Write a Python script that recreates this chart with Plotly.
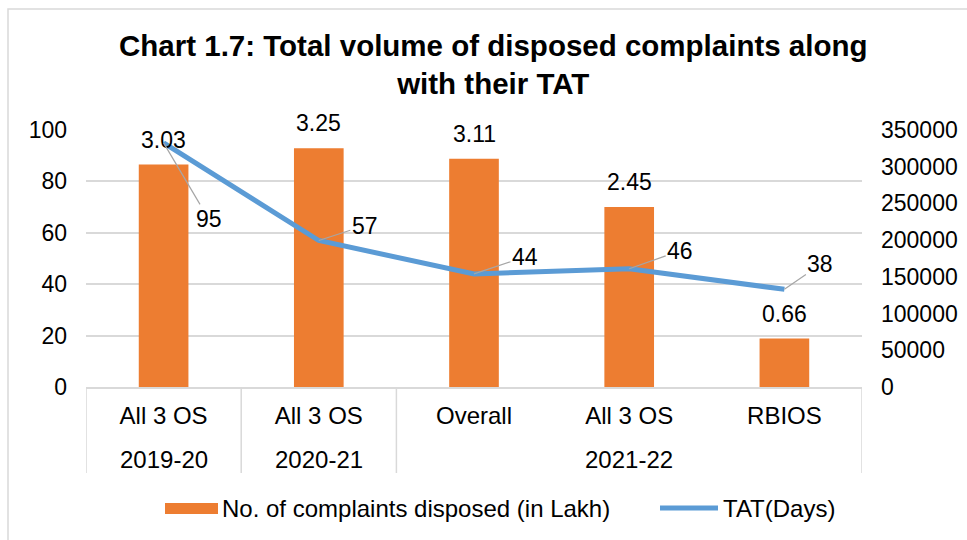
import plotly.graph_objects as go

years = ["2019-20", "2020-21", "2021-22", "2021-22", "2021-22"]
schemes = ["All 3 OS", "All 3 OS", "Overall", "All 3 OS", "RBIOS"]
disposed = [303000, 325000, 311000, 245000, 66000]
disposed_lakh = [3.03, 3.25, 3.11, 2.45, 0.66]
tat_days = [95, 57, 44, 46, 38]
tat_offsets = [(45, 76), (46, -15), (51, -17), (51, -18), (36, -25)]

FONT = "Liberation Sans, Arial, sans-serif"
ORANGE = "#ED7D31"
BLUE = "#5B9BD5"
GRID = "#D9D9D9"
FS = 23
FS_CAT = 24

W, H = 967, 540
L, R, T, B = 86, 105, 130, 153
pw, ph = W - L - R, H - T - B


def px(x):
    return (x - L) / pw


def py(y):
    return (H - B - y) / ph


keys = [f"{y} | {s}" for y, s in zip(years, schemes)]

fig = go.Figure()
fig.add_trace(go.Bar(
    x=keys, y=disposed, name="No. of complaints disposed (in Lakh)",
    marker=dict(color=ORANGE, line=dict(width=0)), yaxis="y", showlegend=False,
))
fig.add_trace(go.Scatter(
    x=keys, y=tat_days, name="TAT(Days)", mode="lines",
    line=dict(color=BLUE, width=5), yaxis="y2", showlegend=False,
))

annotations = []
for k, v, lab in zip(keys, disposed, disposed_lakh):
    annotations.append(dict(
        x=k, y=v, xref="x", yref="y", text=f"{lab:.2f}", showarrow=False,
        yanchor="bottom", yshift=10, font=dict(size=FS, color="#000", family=FONT),
    ))
for k, v, (ax, ay) in zip(keys, tat_days, tat_offsets):
    annotations.append(dict(
        x=k, y=v, xref="x", yref="y2", text=str(v), showarrow=True,
        arrowhead=0, arrowwidth=1.2, arrowcolor="#A6A6A6", ax=ax, ay=ay,
        standoff=0, font=dict(size=FS, color="#000", family=FONT),
    ))

# outer (year) labels, centred on each group
groups = []
for i, yv in enumerate(years):
    if groups and groups[-1][0] == yv:
        groups[-1][2] = i
    else:
        groups.append([yv, i, i])
for yv, i0, i1 in groups:
    annotations.append(dict(
        x=(i0 + i1) / 2, y=py(460), xref="x", yref="paper", text=yv,
        showarrow=False, yanchor="middle",
        font=dict(size=FS_CAT, color="#000", family=FONT)))

# legend (custom)
annotations.append(dict(x=px(220), y=py(508), xref="paper", yref="paper",
                        text="No. of complaints disposed (in Lakh)", showarrow=False,
                        xanchor="left", yanchor="middle",
                        font=dict(size=FS_CAT, color="#000", family=FONT)))
annotations.append(dict(x=px(721), y=py(508), xref="paper", yref="paper",
                        text="TAT(Days)", showarrow=False,
                        xanchor="left", yanchor="middle",
                        font=dict(size=FS_CAT, color="#000", family=FONT)))

# title
annotations.append(dict(
    x=px(493), y=py(64), xref="paper", yref="paper",
    text="<b>Chart 1.7: Total volume of disposed complaints along<br>with their TAT</b>",
    showarrow=False, xanchor="center", yanchor="middle",
    font=dict(size=29.5, color="#000", family=FONT)))

shapes = [
    dict(type="rect", xref="paper", yref="paper", x0=px(8), x1=px(1000),
         y0=py(600), y1=py(9), line=dict(color=GRID, width=1.5),
         fillcolor="rgba(0,0,0,0)", layer="below"),
    dict(type="rect", xref="paper", yref="paper", x0=px(165), x1=px(218),
         y0=py(514), y1=py(503), line=dict(width=0), fillcolor=ORANGE),
    dict(type="line", xref="paper", yref="paper", x0=px(660), x1=px(718),
         y0=py(508), y1=py(508), line=dict(color=BLUE, width=5)),
]
# group dividers
bounds = [groups[0][1] - 0.5] + [g[2] + 0.5 for g in groups]
for b in bounds:
    shapes.append(dict(type="line", xref="x", yref="paper", x0=b, x1=b,
                       y0=0, y1=py(473), line=dict(color=GRID, width=1.5)))

fig.update_layout(
    width=W, height=H,
    margin=dict(l=L, r=R, t=T, b=B, autoexpand=False),
    paper_bgcolor="white", plot_bgcolor="white",
    font=dict(family=FONT, size=FS, color="#000"),
    bargap=0.68,
    hovermode=False,
    xaxis=dict(type="category", range=[-0.5, len(keys) - 0.5], showgrid=False,
               showline=True, linecolor=GRID, linewidth=1.5, ticks="",
               tickvals=keys, ticktext=schemes, ticklabelstandoff=6,
               tickfont=dict(size=FS_CAT, color="#000"), automargin=False),
    yaxis=dict(side="right", range=[0, 350000], dtick=50000, tickformat="d",
               showgrid=False, zeroline=False, showline=False, ticks="",
               ticklabelstandoff=18, tickfont=dict(size=FS, color="#000"),
               automargin=False),
    yaxis2=dict(side="left", overlaying="y", range=[0, 100], dtick=20, showgrid=True,
                gridcolor=GRID, gridwidth=1.5, zeroline=False, showline=False,
                ticks="", ticklabelstandoff=18, tickfont=dict(size=FS, color="#000"),
                automargin=False),
    annotations=annotations,
    shapes=shapes,
)

fig.write_html("out.html", config={"displayModeBar": False},
               post_script="document.body.style.margin='0';")
